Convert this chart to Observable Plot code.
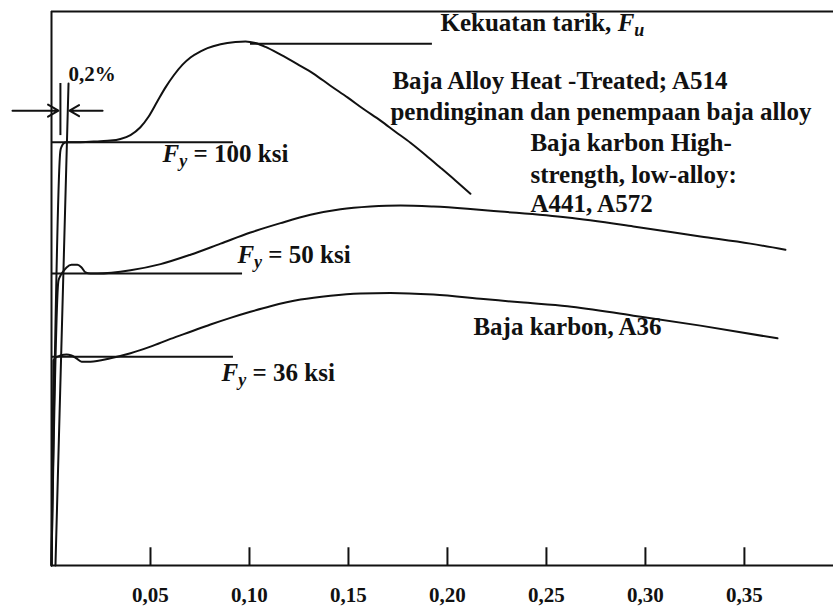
<!DOCTYPE html>
<html>
<head>
<meta charset="utf-8">
<script src="https://cdn.jsdelivr.net/npm/d3@7"></script>
<script src="https://cdn.jsdelivr.net/npm/@observablehq/plot@0.6"></script>
<style>
  html, body { margin: 0; padding: 0; background: #fff; }
  #chart { width: 833px; height: 606px; }
</style>
</head>
<body>
<div id="chart"></div>
<script>
// ---- data (strain, relative stress) ----
const xTickValues = [0.05, 0.10, 0.15, 0.20, 0.25, 0.30, 0.35];
const xTickLabels = ["0,05", "0,10", "0,15", "0,20", "0,25", "0,30", "0,35"];

const a514Strain = [0, 0.0045, 0.0051, 0.0061, 0.0076, 0.0146, 0.0247, 0.0298, 0.0348, 0.0399, 0.0449, 0.0490, 0.0535, 0.0576, 0.0616, 0.0662, 0.0702, 0.0753, 0.0788, 0.0854, 0.0929, 0.0980, 0.1030, 0.1081, 0.1157, 0.1242, 0.1323, 0.1409, 0.1495, 0.1576, 0.1662, 0.1737, 0.1813, 0.1889, 0.1965, 0.2040, 0.2116];
const a514Stress = [0, 74.9, 75.6, 76.2, 76.4, 76.4, 76.6, 76.7, 77.0, 77.7, 79.1, 81.0, 83.8, 86.3, 88.4, 90.4, 91.7, 92.8, 93.4, 94.1, 94.5, 94.6, 94.3, 93.6, 92.2, 90.5, 88.8, 86.6, 84.5, 82.4, 80.3, 78.3, 76.3, 74.1, 71.8, 69.5, 67.1];

const a441Strain = [0, 0.0035, 0.0045, 0.0056, 0.0076, 0.0101, 0.0131, 0.0152, 0.0172, 0.0197, 0.0232, 0.0399, 0.0551, 0.0702, 0.0854, 0.1005, 0.1157, 0.1308, 0.1460, 0.1611, 0.1763, 0.1929, 0.2101, 0.2268, 0.2606, 0.2939, 0.3278, 0.3530, 0.3707];
const a441Stress = [0, 51.4, 52.3, 52.9, 53.8, 54.3, 54.3, 53.8, 52.9, 52.7, 52.7, 53.3, 54.4, 56.1, 58.1, 60.1, 61.8, 63.3, 64.3, 64.8, 65.0, 64.8, 64.4, 63.9, 62.8, 61.2, 59.4, 58.1, 57.0];

const a36Strain = [0, 0.0010, 0.0020, 0.0045, 0.0076, 0.0101, 0.0126, 0.0152, 0.0197, 0.0298, 0.0399, 0.0500, 0.0601, 0.0702, 0.0803, 0.0904, 0.1005, 0.1106, 0.1258, 0.1409, 0.1561, 0.1712, 0.1929, 0.2182, 0.2369, 0.2606, 0.2939, 0.3278, 0.3667];
const a36Stress = [0, 37.0, 37.5, 37.9, 38.1, 37.9, 37.4, 36.8, 36.8, 37.4, 38.3, 39.5, 40.9, 42.2, 43.5, 44.7, 45.8, 46.8, 48.0, 48.7, 49.1, 49.2, 48.9, 48.1, 47.5, 46.8, 45.1, 43.3, 41.0];

// yield plateaus (Fy = 100, 50, 36 ksi)
const yieldStress = [76.4, 52.7, 37.7];
const yieldEndStrain = [0.0919, 0.0965, 0.0919];

// ultimate strength reference line
const fuStrain = [0.1005, 0.1924];
const fuStress = 94.2;

// 0.2% offset construction
const offsetStrain = [0.0020, 0.0086];
const offsetStress = [0, 87.0];
const extStrain = 0.0045;
const extStress = [77.6, 87.0];
const arrowX1 = [-0.0197, 0.0258];
const arrowX2 = [0.0035, 0.0091];
const arrowY = 82.1;

// annotations
const labelTexts = ["Kekuatan tarik, F_u", "Baja Alloy Heat -Treated; A514", "pendinginan dan penempaan baja alloy", "Baja karbon High-", "strength, low-alloy:", "A441, A572", "Baja karbon, A36", "F_y = 100 ksi", "F_y = 50 ksi", "F_y = 36 ksi"];
const labelX = [0.1965, 0.1722, 0.1712, 0.2419, 0.2419, 0.2419, 0.2131, 0.0561, 0.0939, 0.0859];
const labelY = [98.0, 87.5, 81.9, 76.2, 70.4, 65.2, 43.0, 74.2, 56.1, 34.8];
const offsetLabel = "0,2%";
const offsetLabelX = 0.0086, offsetLabelY = 88.6;

// ---- build ----
const toRows = (xs, ys) => xs.map((x, i) => ({x, y: ys[i]}));
const ink = "#111";
const serif = "Liberation Serif, Times New Roman, serif";
const labelRows = labelTexts.map((t, i) => ({t, x: labelX[i], y: labelY[i]}));

const chart = Plot.plot({
  width: 833,
  height: 606,
  marginLeft: 51,
  marginRight: 0,
  marginTop: 11,
  marginBottom: 41,
  x: {domain: [0, 0.395], axis: null},
  y: {domain: [0, 100], axis: null},
  marks: [
    // frame (left, top, bottom)
    Plot.ruleX([0], {y1: 0, y2: 100, stroke: ink, strokeWidth: 2}),
    Plot.ruleY([0, 100], {x1: 0, x2: 0.395, stroke: ink, strokeWidth: 2}),
    // inward ticks
    Plot.ruleX(xTickValues, {y1: 0, y2: 3.2, stroke: ink, strokeWidth: 2}),
    Plot.axisX({
      ticks: xTickValues,
      tickSize: 0,
      tickPadding: 22,
      tickFormat: d => xTickLabels[xTickValues.indexOf(d)],
      fontSize: 21,
      fontWeight: "bold",
      fontFamily: serif,
      fill: ink
    }),
    // yield and ultimate lines
    Plot.ruleY(yieldStress.map((y, i) => ({y, x2: yieldEndStrain[i]})), {y: "y", x1: 0, x2: "x2", stroke: ink, strokeWidth: 2}),
    Plot.ruleY([fuStress], {x1: fuStrain[0], x2: fuStrain[1], stroke: ink, strokeWidth: 2}),
    // offset construction
    Plot.line(toRows(offsetStrain, offsetStress), {x: "x", y: "y", stroke: ink, strokeWidth: 2}),
    Plot.ruleX([extStrain], {y1: extStress[0], y2: extStress[1], stroke: ink, strokeWidth: 2}),
    Plot.arrow(arrowX1.map((x1, i) => ({x1, x2: arrowX2[i]})), {x1: "x1", x2: "x2", y1: arrowY, y2: arrowY, stroke: ink, strokeWidth: 2, headLength: 9, clip: false}),
    // stress-strain curves
    Plot.line(toRows(a514Strain, a514Stress), {x: "x", y: "y", curve: "monotone-x", stroke: ink, strokeWidth: 2}),
    Plot.line(toRows(a441Strain, a441Stress), {x: "x", y: "y", curve: "monotone-x", stroke: ink, strokeWidth: 2}),
    Plot.line(toRows(a36Strain, a36Stress), {x: "x", y: "y", curve: "monotone-x", stroke: ink, strokeWidth: 2}),
    // labels
    Plot.text(labelRows, {x: "x", y: "y", text: "t", textAnchor: "start", fontSize: 25, fontWeight: "bold", fontFamily: serif, fill: ink}),
    Plot.text([offsetLabel], {x: offsetLabelX, y: offsetLabelY, text: d => d, textAnchor: "start", fontSize: 21, fontWeight: "bold", fontFamily: serif, fill: ink})
  ]
});

// render "F_y" / "F_u" as italic F with subscript
d3.select(chart).selectAll("text").each(function () {
  const s = this.textContent;
  const m = s.match(/^(.*?)F_(\w)(.*)$/);
  if (!m) return;
  const [, pre, sub, post] = m;
  const sel = d3.select(this);
  sel.text(null);
  if (pre) sel.append("tspan").text(pre);
  sel.append("tspan").attr("font-style", "italic").text("F");
  sel.append("tspan").attr("font-style", "italic").attr("font-size", "18px").attr("dy", "5").text(sub);
  if (post) sel.append("tspan").attr("dy", "-5").text(post);
});

document.getElementById("chart").appendChild(chart);
</script>
</body>
</html>
